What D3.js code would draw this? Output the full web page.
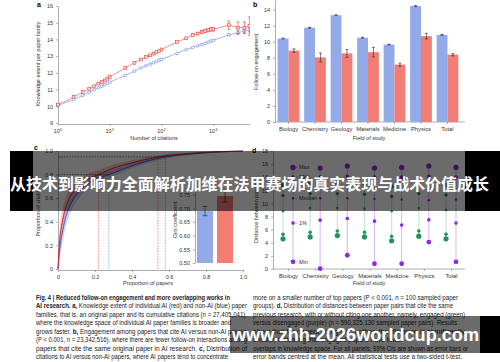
<!DOCTYPE html>
<html>
<head>
<meta charset="utf-8">
<script src="https://cdn.jsdelivr.net/npm/d3@7"></script>
<style>
  body { margin: 0; background: #fff; }
  svg { display: block; font-family: "Liberation Sans", Arial, sans-serif; }
</style>
</head>
<body>
<svg id="fig" width="500" height="362"></svg>
<script>
// ---- panel a: knowledge extent vs citations
const citations = [1,2,3,4,5,6,7,8,9,10,20,30,40,50,60,70,80,90,100,200,300,400,500,600,700,800,900,1000,2000,3000,4000,5000];
const aiExtent = [10.1,10.55,10.85,11.05,11.2,11.35,11.45,11.55,11.65,11.75,12.3,12.6,12.8,12.95,13.05,13.15,13.25,13.3,13.4,13.85,14.07,14.27,14.35,14.45,14.5,14.55,14.6,14.6,14.85,14.7,14.7,14.8];
const aiExtentErr = [0,0,0,0,0,0,0,0,0,0,0,0,0,0,0,0,0,0,0.03,0.04,0.05,0.06,0.07,0.08,0.08,0.09,0.1,0.1,0.25,0.35,0.35,0.55];
const nonAiExtent = [10.05,10.4,10.65,10.85,11.0,11.1,11.2,11.3,11.37,11.44,11.85,12.1,12.3,12.42,12.52,12.6,12.68,12.75,12.81,13.17,13.4,13.52,13.62,13.7,13.77,13.83,13.9,13.95,14.27,14.4,14.5,14.6];
const nonAiExtentErr = [0,0,0,0,0,0,0,0,0,0,0,0,0,0,0,0,0,0,0,0,0,0,0,0,0,0,0,0,0.05,0.1,0.12,0.15];

// ---- panel b: follow-on engagement by field
const fields = ["Biology","Chemistry","Geology","Materials","Medicine","Physics","Total"];
const engNonAi = [10.4,11.75,13.3,10.5,9.65,14.45,10.85];
const engNonAiErr = [0.05,0.05,0.05,0.05,0.05,0.05,0.05];
const engAi = [8.9,8.05,8.55,8.7,7.15,10.7,8.4];
const engAiErr = [0.22,0.55,0.5,0.6,0.2,0.35,0.15];

// ---- panel c: cumulative citation share
const aiPropPapers = [0,0.005,0.01,0.02,0.03,0.05,0.075,0.1,0.15,0.22,0.3,0.4,0.54,0.7,0.85,1];
const aiPropCites = [0,0.16,0.26,0.37,0.45,0.56,0.64,0.69,0.75,0.8,0.855,0.9,0.95,0.978,0.993,1];
const aiBandHalf = [0,0.08,0.1,0.1,0.09,0.08,0.07,0.06,0.05,0.04,0.03,0.022,0.015,0.008,0.004,0];
const nonAiPropPapers = [0,0.005,0.01,0.02,0.03,0.05,0.075,0.1,0.15,0.2,0.275,0.4,0.58,0.7,0.85,1];
const nonAiPropCites = [0,0.1,0.18,0.28,0.36,0.48,0.57,0.63,0.71,0.76,0.8,0.875,0.95,0.972,0.99,1];
const nonAiBandHalf = [0,0.07,0.09,0.1,0.09,0.08,0.07,0.06,0.05,0.04,0.03,0.022,0.015,0.008,0.004,0];
const thresholds = [0.8, 0.95];
const aiThresholdX = [0.22, 0.54];
const nonAiThresholdX = [0.275, 0.58];
const giniGroups = ["Non-AI","AI"];
const giniValues = [0.69, 0.745];
const giniErr = [0.017, 0.022];

// ---- panel d: distance between paper pairs
const disMax = [15.5,15.4,15.7,15.4,15.5,15.7,15.5];
const dis99 = [14.0,14.0,14.1,14.0,14.0,14.1,14.0];
const disMedian = [10.8,10.8,10.8,10.7,10.6,10.5,10.6];
const dis1 = [7.0,7.45,7.7,7.3,6.7,7.5,7.0];
const disMin = [1.1,0.05,2.1,0.8,0.8,4.1,1.1];
const engdMax = [12.8,13.0,13.0,12.9,12.6,13.0,12.8];
const engd99 = [11.2,11.5,11.5,11.4,11.1,11.5,11.3];
const engdMedian = [8.8,9.3,9.3,9.2,8.8,9.3,9.0];
const engd1 = [5.3,5.6,5.8,5.6,5.0,5.8,5.3];
const engdMin = [4.6,4.9,5.1,4.9,4.3,5.0,4.6];
const statLabels = ["Max","99%","Median","1%","Min"];

const RED = "#ee3b3b", BLUE = "#5a7de0";
const BAR_BLUE = "#93aae9", BAR_RED = "#f27d74";
const GREEN = "#23925a", PURPLE = "#8a2be2";

const svg = d3.select("#fig");
svg.append("rect").attr("width", 500).attr("height", 362).attr("fill", "#fff");

function styleAxis(g) {
  g.selectAll("path, line").attr("stroke", "#777").attr("stroke-width", 0.6);
  g.selectAll("text").attr("font-size", 5.5).attr("fill", "#333");
}
function panelLabel(x, y, t) {
  svg.append("text").attr("x", x).attr("y", y).attr("font-size", 7)
    .attr("font-weight", "bold").text(t);
}
function axisTitle(x, y, t, rotate) {
  svg.append("text")
    .attr("transform", `translate(${x},${y})` + (rotate ? " rotate(-90)" : ""))
    .attr("text-anchor", "middle").attr("font-size", 5.5).attr("fill", "#333").text(t);
}

// ================= panel a
svg.append("clipPath").attr("id", "clipA").append("rect")
  .attr("x", 0).attr("y", 0).attr("width", 250).attr("height", 140);
const gA = svg.append("g").attr("clip-path", "url(#clipA)");
const xA = d3.scaleLog().domain([1, 1e4]).range([58, 265]);
const yA = d3.scaleLinear().domain([9, 16]).range([123, 6]);

gA.append("g").attr("transform", "translate(0,124)")
  .call(d3.axisBottom(xA).tickValues([1, 10, 100, 1000]).tickSize(2).tickSizeOuter(0).tickFormat(""))
  .call(styleAxis);
[1, 10, 100, 1000].forEach((v, i) => {
  const t = gA.append("text").attr("x", xA(v)).attr("y", 133)
    .attr("text-anchor", "middle").attr("font-size", 5.5).attr("fill", "#333");
  t.append("tspan").text("10");
  t.append("tspan").attr("dy", -2.5).attr("font-size", 4).text(i);
});
gA.append("g").attr("transform", "translate(58,0)")
  .call(d3.axisLeft(yA).ticks(7).tickSize(2).tickSizeOuter(0))
  .call(styleAxis);

const lineA = d3.line().x((d, i) => xA(citations[i])).y(d => yA(d));
function seriesA(vals, errs, color, square) {
  gA.append("path").datum(vals).attr("d", lineA).attr("fill", "none")
    .attr("stroke", color).attr("stroke-opacity", 0.7).attr("stroke-width", 0.8);
  vals.forEach((v, i) => {
    const x = xA(citations[i]);
    if (errs[i] > 0.04) {
      const y0 = yA(v - errs[i]), y1 = yA(v + errs[i]);
      gA.append("path").attr("d", `M${x},${y0}V${y1}M${x - 1.6},${y0}h3.2M${x - 1.6},${y1}h3.2`)
        .attr("stroke", color).attr("stroke-width", 0.6).attr("fill", "none");
    }
    if (square) {
      gA.append("rect").attr("x", x - 1.4).attr("y", yA(v) - 1.4).attr("width", 2.8).attr("height", 2.8)
        .attr("fill", "#fde0e0").attr("stroke", color).attr("stroke-width", 0.6);
    } else {
      gA.append("circle").attr("cx", x).attr("cy", yA(v)).attr("r", 1.4)
        .attr("fill", "#fff").attr("stroke", color).attr("stroke-width", 0.6);
    }
  });
}
seriesA(nonAiExtent, nonAiExtentErr, BLUE, false);
seriesA(aiExtent, aiExtentErr, RED, true);
panelLabel(37, 7, "a");
axisTitle(40, 64, "Knowledge extent per paper family", true);
axisTitle(154, 140, "Number of citations", false);

// ================= panel b
const xB = d3.scaleBand().domain(fields).range([275, 461]).paddingInner(0.18).paddingOuter(0.1);
const xBsub = d3.scaleBand().domain(["nonAi", "ai"]).range([0, xB.bandwidth()]);
const yB = d3.scaleLinear().domain([0, 15.2]).range([122, 0]);

svg.append("g").attr("transform", "translate(275,0)")
  .call(d3.axisLeft(yB).tickValues(d3.range(0, 15, 2)).tickSize(2).tickSizeOuter(0))
  .call(styleAxis);
const gBx = svg.append("g").attr("transform", "translate(0,122)")
  .call(d3.axisBottom(xB).tickSize(2).tickSizeOuter(0)).call(styleAxis);
gBx.select(".domain").attr("d", "M275,0H465");
gBx.selectAll("text").attr("font-size", 5.8);

function barsB(vals, errs, key, color) {
  vals.forEach((v, i) => {
    const x = xB(fields[i]) + xBsub(key);
    svg.append("rect").attr("x", x).attr("y", yB(v)).attr("width", xBsub.bandwidth())
      .attr("height", yB(0) - yB(v)).attr("fill", color);
    const cx = x + xBsub.bandwidth() / 2, y0 = yB(v - errs[i]), y1 = yB(v + errs[i]);
    svg.append("path").attr("d", `M${cx},${y0}V${y1}M${cx - 1.5},${y0}h3M${cx - 1.5},${y1}h3`)
      .attr("stroke", "#222").attr("stroke-width", 0.6).attr("fill", "none");
  });
}
barsB(engNonAi, engNonAiErr, "nonAi", BAR_BLUE);
barsB(engAi, engAiErr, "ai", BAR_RED);
panelLabel(253, 7, "b");
axisTitle(258, 62, "Follow-on engagement", true);
axisTitle(369, 140, "Field of study", false);

// ================= panel c
const xC = d3.scaleLinear().domain([0, 1]).range([58, 243]);
const yC = d3.scaleLinear().domain([0, 1]).range([269, 151]);
svg.append("g").attr("transform", "translate(58,0)")
  .call(d3.axisLeft(yC).tickValues([0, 0.2, 0.4, 0.6, 0.8, 1]).tickFormat(d => d === 0 ? "0" : d3.format(".1f")(d)).tickSize(2).tickSizeOuter(0))
  .call(styleAxis);
svg.append("g").attr("transform", "translate(0,270)")
  .call(d3.axisBottom(xC).tickValues([0, 0.2, 0.4, 0.6, 0.8, 1]).tickFormat(d => d === 0 ? "0" : d3.format(".1f")(d)).tickSize(2).tickSizeOuter(0))
  .call(styleAxis);

function curveC(xs, ys, hw, color, bandOpacity) {
  const area = d3.area().x((d, i) => xC(xs[i]))
    .y0((d, i) => yC(Math.max(0, ys[i] - hw[i])))
    .y1((d, i) => yC(Math.min(1, ys[i] + hw[i])))
    .curve(d3.curveMonotoneX);
  svg.append("path").datum(ys).attr("d", area).attr("fill", color).attr("fill-opacity", bandOpacity);
}
function lineC(xs, ys, color) {
  const line = d3.line().x((d, i) => xC(xs[i])).y(d => yC(d)).curve(d3.curveMonotoneX);
  svg.append("path").datum(ys).attr("d", line).attr("fill", "none").attr("stroke", color).attr("stroke-width", 1);
}
curveC(nonAiPropPapers, nonAiPropCites, nonAiBandHalf, BLUE, 0.3);
curveC(aiPropPapers, aiPropCites, aiBandHalf, RED, 0.3);
lineC(nonAiPropPapers, nonAiPropCites, "#3a5fd8");
lineC(aiPropPapers, aiPropCites, "#e02828");

thresholds.forEach((t, i) => {
  svg.append("line").attr("x1", xC(0)).attr("x2", xC(nonAiThresholdX[i]))
    .attr("y1", yC(t)).attr("y2", yC(t)).attr("stroke", "#222").attr("stroke-width", 0.6)
    .attr("stroke-dasharray", "1.6,1.2");
  [[aiThresholdX[i], RED], [nonAiThresholdX[i], BLUE]].forEach(([px, c]) => {
    svg.append("line").attr("x1", xC(px)).attr("x2", xC(px))
      .attr("y1", yC(0)).attr("y2", yC(t)).attr("stroke", c).attr("stroke-width", 0.6)
      .attr("stroke-dasharray", "1.6,1.2");
  });
});

// inset: Gini coefficient
const xG = d3.scaleBand().domain(giniGroups).range([196, 234]).paddingInner(0.2).paddingOuter(0.05);
const yG = d3.scaleLinear().domain([0.5, 0.8]).range([263, 181]);
svg.append("rect").attr("x", 172).attr("y", 178).attr("width", 72).attr("height", 90).attr("fill", "#fff");
svg.append("g").attr("transform", "translate(195,0)")
  .call(d3.axisLeft(yG).tickValues([0.5, 0.55, 0.6, 0.65, 0.7, 0.75]).tickFormat(d3.format(".2f")).tickSize(2).tickSizeOuter(0))
  .call(styleAxis);
giniValues.forEach((v, i) => {
  const x = xG(giniGroups[i]);
  svg.append("rect").attr("x", x).attr("y", yG(v)).attr("width", xG.bandwidth())
    .attr("height", yG(0.5) - yG(v)).attr("fill", i === 0 ? BAR_BLUE : BAR_RED);
  const cx = x + xG.bandwidth() / 2, y0 = yG(v - giniErr[i]), y1 = yG(v + giniErr[i]);
  svg.append("path").attr("d", `M${cx},${y0}V${y1}M${cx - 2.5},${y0}h5M${cx - 2.5},${y1}h5`)
    .attr("stroke", "#222").attr("stroke-width", 0.6).attr("fill", "none");
});
axisTitle(177, 220, "Gini coefficient", true);
panelLabel(34, 150, "c");
axisTitle(40, 210, "Proportion of citations", true);
axisTitle(148, 285, "Proportion of papers", false);

// ================= panel d
const xD = d3.scalePoint().domain(fields).range([288, 451]);
const yD = d3.scaleLinear().domain([0, 18]).range([269, 151]);
svg.append("g").attr("transform", "translate(273,0)")
  .call(d3.axisLeft(yD).tickValues(d3.range(0, 19, 2)).tickSize(2).tickSizeOuter(0))
  .call(styleAxis);
const gDx = svg.append("g").attr("transform", "translate(0,269)")
  .call(d3.axisBottom(xD).tickSize(2).tickSizeOuter(0)).call(styleAxis);
gDx.select(".domain").attr("d", "M273,0H465");
gDx.selectAll("text").attr("font-size", 5.8);

function rangeD(stats, dx, color, lineColor, radii) {
  fields.forEach((f, i) => {
    const x = xD(f) + dx;
    svg.append("line").attr("x1", x).attr("x2", x)
      .attr("y1", yD(stats[4][i])).attr("y2", yD(stats[0][i]))
      .attr("stroke", lineColor).attr("stroke-width", 1.1);
    stats.forEach((s, k) => {
      svg.append("circle").attr("cx", x).attr("cy", yD(s[i])).attr("r", radii[k]).attr("fill", color);
    });
  });
}
rangeD([engdMax, engd99, engdMedian, engd1, engdMin], -5, GREEN, "#c4e4d0", [2.2, 1.7, 1.2, 1.8, 2.6]);
rangeD([disMax, dis99, disMedian, dis1, disMin], 5, PURPLE, "#dcbcf8", [2.6, 2.0, 1.2, 1.8, 2.4]);
[disMax, dis99, disMedian, dis1, disMin].forEach((s, k) => {
  const x = xD(fields[0]) + 5, y = yD(s[0]);
  svg.append("line").attr("x1", x + 2).attr("x2", x + 5).attr("y1", y).attr("y2", y)
    .attr("stroke", "#999").attr("stroke-width", 0.5);
  svg.append("text").attr("x", x + 6).attr("y", y + 2).attr("font-size", 5.5)
    .attr("fill", "#333").text(statLabels[k]);
});
panelLabel(252, 153, "d");
axisTitle(258, 212, "Distance between papers", true);
axisTitle(369, 285, "Field of study", false);

// ================= caption
const capLeft = [
  [["Fig. 4 | Reduced follow-on engagement and more overlapping works in", true]],
  [["AI research. a, ", true], ["Knowledge extent of individual AI (red) and non-AI (blue) paper", false]],
  [["families, that is, an original paper and its cumulative citations (n = 27,405,041),", false]],
  [["where the knowledge space of individual AI paper families is broader and", false]],
  [["grows faster. ", false], ["b, ", true], ["Engagement among papers that cite AI versus non-AI papers", false]],
  [["(P < 0.001, n = 23,342,516), where there are fewer follow-on interactions among", false]],
  [["papers that cite the same original paper in AI research. ", false], ["c, ", true], ["Distribution of", false]],
  [["citations to AI versus non-AI papers, where AI papers tend to concentrate", false]]
];
const capRight = [
  [["more on a smaller number of top papers (P < 0.001, n = 100 sampled paper", false]],
  [["groups). ", false], ["d, ", true], ["Distribution of distances between paper pairs that cite the same", false]],
  [["previous research, with or without citing one another, namely, engaged (green)", false]],
  [["versus disengaged (purple) (n = 590,325,130 sampled paper pairs). Results", false]],
  [["show that for papers citing each other, the distance is significantly", false]],
  [["smaller, indicating that engaged papers have fewer", false]],
  [["overlaps in knowledge space. For all panels, 99% CIs are shown as error bars or", false]],
  [["error bands centred at the mean. All statistical tests use a two-sided t-test.", false]]
];
const leftWidths = [194, 211, 211, 195, 211, 211, 211, 192];
const rightWidths = [205, 200, 212, 204, 212, 150, 215, 209];
function caption(lines, x, y0, widths) {
  lines.forEach((parts, i) => {
    const t = svg.append("text").attr("x", x).attr("y", y0 + i * 8.45)
      .attr("font-size", 6.6).attr("fill", "#222")
      .attr("textLength", widths[i]).attr("lengthAdjust", "spacingAndGlyphs");
    parts.forEach(([s, b]) => t.append("tspan").attr("font-weight", b ? "bold" : "normal").text(s));
  });
}
caption(capLeft, 36, 300, leftWidths);
caption(capRight, 253, 300, rightWidths);

// ================= overlay banners
svg.append("rect").attr("x", 10).attr("y", 151).attr("width", 23).attr("height", 60).attr("fill", "#000");
svg.append("rect").attr("x", 33).attr("y", 151).attr("width", 432).attr("height", 60).attr("fill", "#000").attr("fill-opacity", 0.58);
svg.append("rect").attr("x", 465).attr("y", 151).attr("width", 35).attr("height", 60).attr("fill", "#000");
svg.append("text").attr("x", 10).attr("y", 190)
  .attr("font-family", "'Noto Sans CJK SC', sans-serif").attr("font-weight", "bold")
  .attr("font-size", 16).attr("fill", "#fff")
  .attr("textLength", 479).attr("lengthAdjust", "spacingAndGlyphs")
  .text("从技术到影响力全面解析加维在法甲赛场的真实表现与战术价值成长");

svg.append("rect").attr("x", 230).attr("y", 316).attr("width", 250).attr("height", 37).attr("fill", "#000").attr("fill-opacity", 0.58);
svg.append("rect").attr("x", 480).attr("y", 316).attr("width", 20).attr("height", 37).attr("fill", "#000");
svg.append("text").attr("x", 232).attr("y", 341)
  .attr("font-family", "'Liberation Sans', Arial, sans-serif").attr("font-weight", "bold")
  .attr("font-size", 19).attr("fill", "#fff")
  .attr("textLength", 247).attr("lengthAdjust", "spacingAndGlyphs")
  .text("www.zhh-2026worldcup.com");
</script>
</body>
</html>
